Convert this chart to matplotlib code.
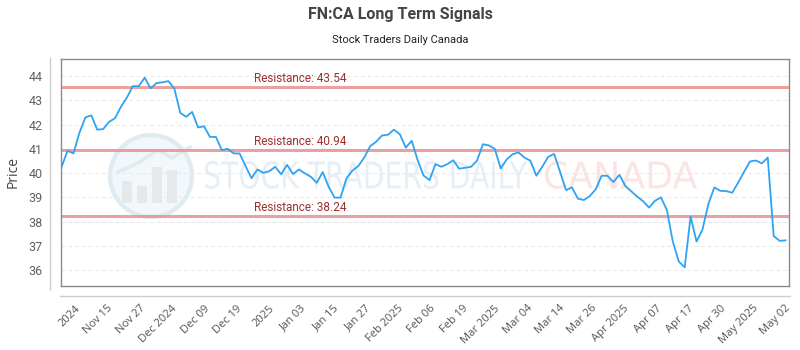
import numpy as np
import matplotlib
matplotlib.use('Agg')
import matplotlib.pyplot as plt
from matplotlib.lines import Line2D
from matplotlib.patches import Circle, Rectangle, PathPatch
from matplotlib.textpath import TextPath
from matplotlib.font_manager import FontProperties
from matplotlib.transforms import Affine2D, IdentityTransform

# daily closes, Nov 2024 - May 2025
prices = [40.26, 40.92, 40.81, 41.66, 42.29, 42.38, 41.79, 41.81, 42.11, 42.26,
          42.73, 43.11, 43.58, 43.58, 43.93, 43.49, 43.71, 43.74, 43.79, 43.48,
          42.48, 42.32, 42.52, 41.88, 41.93, 41.49, 41.49, 40.95, 41.00, 40.81,
          40.81, 40.29, 39.79, 40.15, 40.01, 40.08, 40.26, 39.95, 40.34, 39.96,
          40.15, 39.99, 39.85, 39.60, 40.04, 39.44, 38.99, 38.99, 39.78, 40.10,
          40.29, 40.64, 41.11, 41.29, 41.55, 41.58, 41.79, 41.60, 41.05, 41.33,
          40.53, 39.90, 39.71, 40.37, 40.26, 40.37, 40.53, 40.18, 40.22, 40.26,
          40.51, 41.19, 41.14, 41.00, 40.19, 40.56, 40.78, 40.85, 40.64, 40.51,
          39.89, 40.26, 40.67, 40.79, 40.05, 39.30, 39.41, 38.95, 38.89, 39.05,
          39.33, 39.89, 39.89, 39.63, 39.93, 39.47, 39.25, 39.03, 38.84, 38.58,
          38.86, 39.00, 38.48, 37.18, 36.36, 36.12, 38.21, 37.18, 37.68, 38.73,
          39.41, 39.27, 39.26, 39.19, 39.60, 40.05, 40.48, 40.52, 40.40, 40.64,
          37.41, 37.21, 37.23]

resistance = [43.54, 40.94, 38.24]

date_labels = ['2024', 'Nov 15', 'Nov 27', 'Dec 2024', 'Dec 09', 'Dec 19', '2025',
               'Jan 03', 'Jan 15', 'Jan 27', 'Feb 2025', 'Feb 06', 'Feb 19',
               'Mar 2025', 'Mar 04', 'Mar 14', 'Mar 26', 'Apr 2025', 'Apr 07',
               'Apr 17', 'Apr 30', 'May 2025', 'May 02']

y_ticks = [36, 37, 38, 39, 40, 41, 42, 43, 44]

W, H = 800, 350
fig = plt.figure(figsize=(W / 100, H / 100), dpi=100)
fig.patch.set_facecolor('white')
ax = fig.add_axes([61 / W, 64 / H, 728 / W, 227 / H])
ax.patch.set_visible(False)

x = np.arange(len(prices))
ax.plot(x, prices, color='#2ea3f2', lw=1.3, zorder=3)

for r in resistance:
    ax.axhline(r, color='#e88a8a', lw=2.2, alpha=0.8, zorder=2)
    ax.annotate(f'Resistance: {r:.2f}', xy=(32.4, r), xytext=(0, 1.5),
                textcoords='offset points', va='bottom', ha='left',
                color='#9e2f2f', fontsize=8.5, family='Roboto', zorder=4)

ax.set_xlim(-0.1, len(prices) - 0.9)
ax.set_ylim(35.35, 44.7)
ax.set_yticks(y_ticks)
ax.grid(axis='y', color='#e8e8e8', ls=(0, (4, 3)), lw=0.7)
ax.set_axisbelow(True)

ticks = np.linspace(2.9, 2.9 + 22 * 5.44, len(date_labels))
ax.set_xticks(ticks)
ax.set_xticklabels(date_labels, rotation=45, ha='right', va='center',
                   rotation_mode='anchor', family='Open Sans', fontsize=8,
                   color='#555555')
ax.tick_params(axis='x', length=0, pad=15)
ax.tick_params(axis='y', length=0, pad=13, labelsize=9, labelcolor='#606060')
for lab in ax.get_yticklabels():
    lab.set_family('Roboto')

ax.set_ylabel('Price', fontsize=10, color='#444444', family='Open Sans')
ax.yaxis.set_label_coords(-0.055, 0.5)

for s in ax.spines.values():
    s.set_color('#8a8a8a')
    s.set_linewidth(1)

# outer axis lines
fig.add_artist(Line2D([50 / W, 50 / W], [1 - 58 / H, 1 - 290 / H],
                      transform=fig.transFigure, color='#cccccc', lw=1))
fig.add_artist(Line2D([60 / W, 790 / W], [1 - 296 / H, 1 - 296 / H],
                      transform=fig.transFigure, color='#cccccc', lw=1))

# watermark
def stamp(text, x0, x1, ytop, ybot, color):
    tp = TextPath((0, 0), text, size=100, prop=FontProperties(family='DejaVu Sans'))
    bb = tp.get_extents()
    tr = (Affine2D().translate(-bb.x0, -bb.y0)
          .scale((x1 - x0) / bb.width, (ybot - ytop) / bb.height)
          .translate(x0, H - ybot))
    ax.add_patch(PathPatch(tr.transform_path(tp), transform=IdentityTransform(),
                           facecolor=color, edgecolor='none', zorder=0.2,
                           clip_on=False))

stamp('STOCK TRADERS DAILY', 205, 527, 161, 189, '#e6eff5')
stamp('CANADA', 545, 697, 161, 189, '#fbe4e4')

cx, cy = 151, H - 176
ax.add_patch(Circle((cx, cy), 41, transform=IdentityTransform(), facecolor='#f1f7fb',
                    edgecolor='#e0eaf1', lw=3, zorder=0.2, clip_on=False))
for bx, top in [(122, 181), (137, 186), (152, 167), (167, 170)]:
    ax.add_patch(Rectangle((bx, H - 203), 10, 203 - top, transform=IdentityTransform(),
                           facecolor='#e5e9ec', edgecolor='none', zorder=0.25,
                           clip_on=False))
ax.add_line(Line2D([118, 138, 158, 172, 190], [H - 172, H - 163, H - 150, H - 158, H - 147],
                   transform=IdentityTransform(), color='#e5e9ec', lw=2.5,
                   zorder=0.25, clip_on=False))

fig.text(0.5, 1 - 15 / H, 'FN:CA Long Term Signals', ha='center', va='center',
         fontsize=11.5, fontweight='bold', color='#444444', family='Roboto')
fig.text(0.5, 1 - 40 / H, 'Stock Traders Daily Canada', ha='center', va='center',
         fontsize=8, color='#222222', family='Roboto')

fig.savefig('out.png', dpi=100)
